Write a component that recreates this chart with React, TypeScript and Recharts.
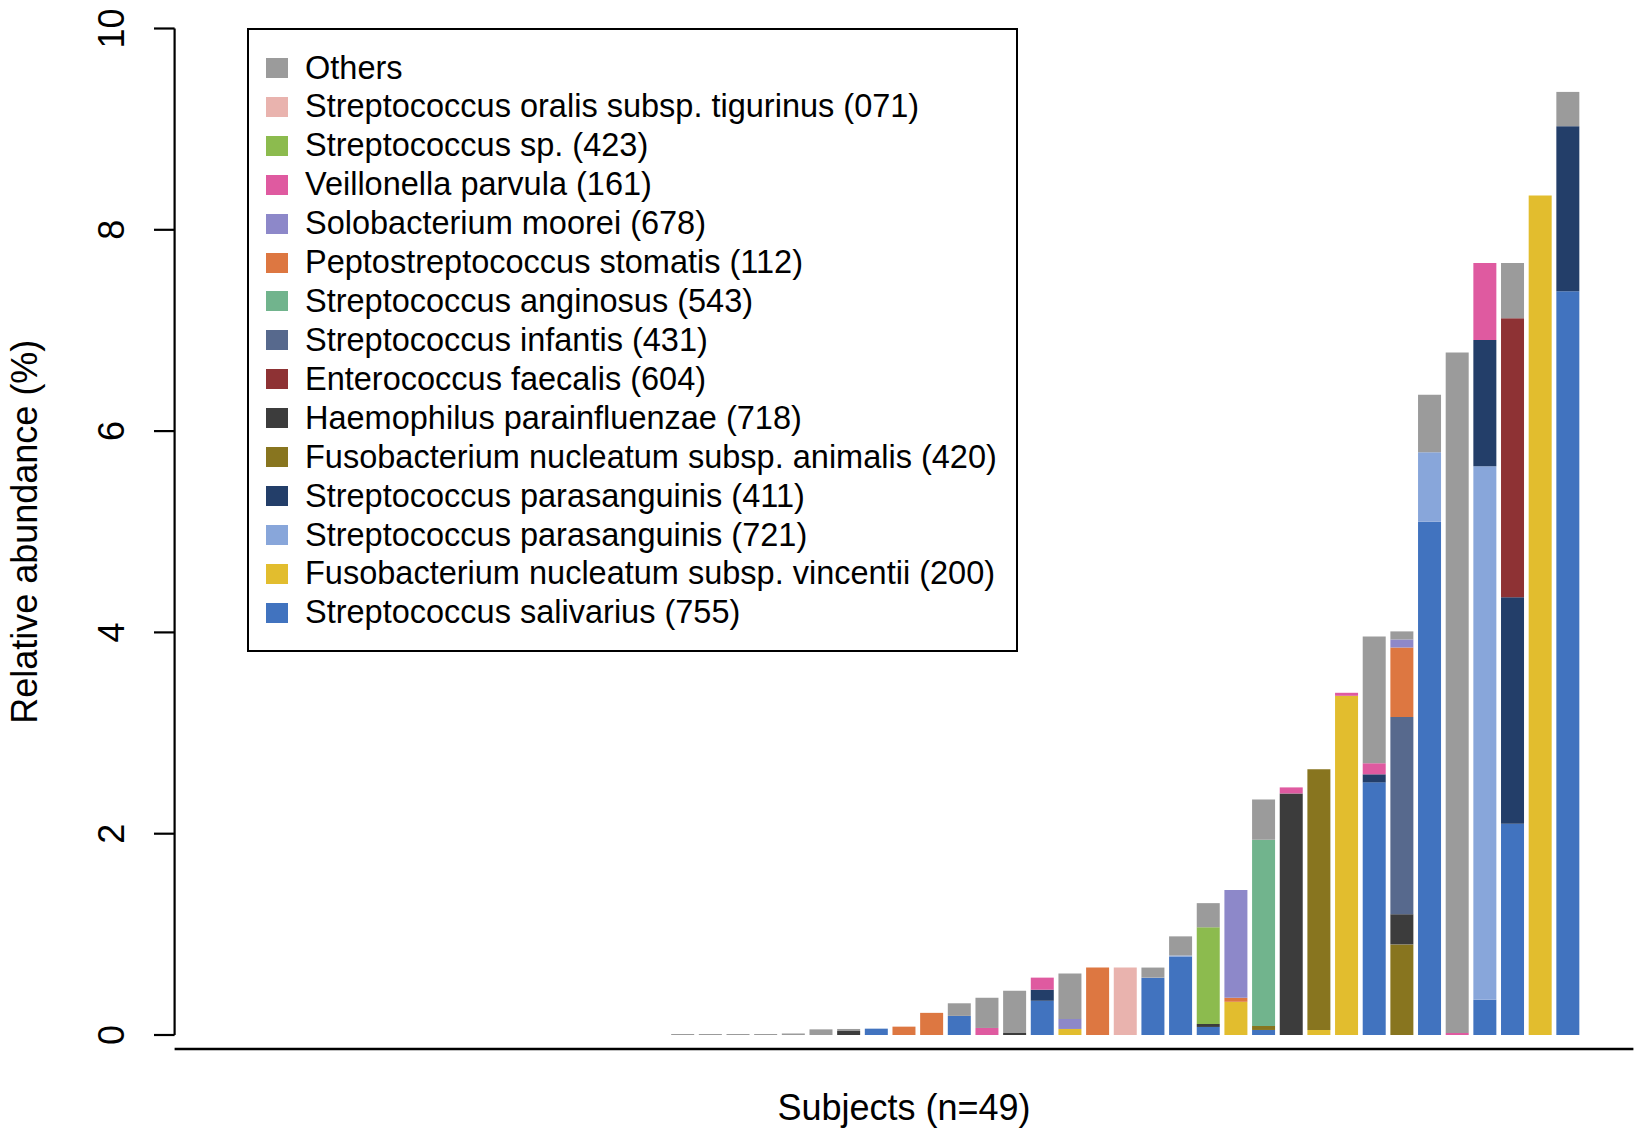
import { BarChart, Bar, XAxis, YAxis, Legend } from 'recharts';

// 49 subjects, sorted by total abundance of the top taxa
const SUBJECTS = [
  'S01', 'S02', 'S03', 'S04', 'S05', 'S06', 'S07', 'S08', 'S09', 'S10',
  'S11', 'S12', 'S13', 'S14', 'S15', 'S16', 'S17', 'S18', 'S19', 'S20',
  'S21', 'S22', 'S23', 'S24', 'S25', 'S26', 'S27', 'S28', 'S29', 'S30',
  'S31', 'S32', 'S33', 'S34', 'S35', 'S36', 'S37', 'S38', 'S39', 'S40',
  'S41', 'S42', 'S43', 'S44', 'S45', 'S46', 'S47', 'S48', 'S49',
];

const OTHERS = [
  0, 0, 0, 0, 0, 0, 0, 0, 0, 0, 0, 0, 0, 0, 0, 0,
  0.01, 0.01, 0.01, 0.01, 0.015, 0.056, 0.02, 0,
  0, 0, 0.125, 0.3, 0.42, 0, 0.45, 0,
  0, 0.1, 0.19, 0.24, 0, 0.4, 0, 0,
  0, 1.26, 0.08, 0.57, 6.76, 0, 0.55, 0, 0.34,
];
const ORALIS = [
  0, 0, 0, 0, 0, 0, 0, 0, 0, 0, 0, 0, 0, 0, 0, 0,
  0, 0, 0, 0, 0, 0, 0, 0,
  0, 0, 0, 0, 0, 0, 0, 0,
  0.67, 0, 0, 0, 0, 0, 0, 0,
  0, 0, 0, 0, 0, 0, 0, 0, 0,
];
const SP423 = [
  0, 0, 0, 0, 0, 0, 0, 0, 0, 0, 0, 0, 0, 0, 0, 0,
  0, 0, 0, 0, 0, 0, 0, 0,
  0, 0, 0, 0, 0, 0, 0, 0,
  0, 0, 0, 0.96, 0, 0, 0, 0,
  0, 0, 0, 0, 0, 0, 0, 0, 0,
];
const VEILLONELLA = [
  0, 0, 0, 0, 0, 0, 0, 0, 0, 0, 0, 0, 0, 0, 0, 0,
  0, 0, 0, 0, 0, 0, 0, 0,
  0, 0, 0, 0.07, 0, 0.12, 0, 0,
  0, 0, 0, 0, 0, 0, 0.06, 0,
  0.03, 0.11, 0, 0, 0.02, 0.765, 0, 0, 0,
];
const SOLOBACTERIUM = [
  0, 0, 0, 0, 0, 0, 0, 0, 0, 0, 0, 0, 0, 0, 0, 0,
  0, 0, 0, 0, 0, 0, 0, 0,
  0, 0, 0, 0, 0, 0, 0.1, 0,
  0, 0, 0, 0, 1.07, 0, 0, 0,
  0, 0, 0.08, 0, 0, 0, 0, 0, 0,
];
const PEPTO = [
  0, 0, 0, 0, 0, 0, 0, 0, 0, 0, 0, 0, 0, 0, 0, 0,
  0, 0, 0, 0, 0, 0, 0, 0,
  0.083, 0.22, 0, 0, 0, 0, 0, 0.67,
  0, 0, 0, 0, 0.04, 0, 0, 0,
  0, 0, 0.69, 0, 0, 0, 0, 0, 0,
];
const ANGINOSUS = [
  0, 0, 0, 0, 0, 0, 0, 0, 0, 0, 0, 0, 0, 0, 0, 0,
  0, 0, 0, 0, 0, 0, 0, 0,
  0, 0, 0, 0, 0, 0, 0, 0,
  0, 0, 0, 0, 0, 1.85, 0, 0,
  0, 0, 0, 0, 0, 0, 0, 0, 0,
];
const INFANTIS = [
  0, 0, 0, 0, 0, 0, 0, 0, 0, 0, 0, 0, 0, 0, 0, 0,
  0, 0, 0, 0, 0, 0, 0, 0,
  0, 0, 0, 0, 0, 0, 0, 0,
  0, 0, 0, 0, 0, 0, 0, 0,
  0, 0, 1.96, 0, 0, 0, 0, 0, 0,
];
const ENTEROCOCCUS = [
  0, 0, 0, 0, 0, 0, 0, 0, 0, 0, 0, 0, 0, 0, 0, 0,
  0, 0, 0, 0, 0, 0, 0, 0,
  0, 0, 0, 0, 0, 0, 0, 0,
  0, 0, 0, 0, 0, 0, 0, 0,
  0, 0, 0, 0, 0, 0, 2.77, 0, 0,
];
const HAEMOPHILUS = [
  0, 0, 0, 0, 0, 0, 0, 0, 0, 0, 0, 0, 0, 0, 0, 0,
  0, 0, 0, 0, 0, 0, 0.04, 0,
  0, 0, 0, 0, 0.02, 0, 0, 0,
  0, 0, 0, 0.03, 0, 0, 2.4, 0,
  0, 0, 0.3, 0, 0, 0, 0, 0, 0,
];
const ANIMALIS = [
  0, 0, 0, 0, 0, 0, 0, 0, 0, 0, 0, 0, 0, 0, 0, 0,
  0, 0, 0, 0, 0, 0, 0, 0,
  0, 0, 0, 0, 0, 0, 0, 0,
  0, 0, 0, 0, 0, 0.04, 0, 2.59,
  0, 0, 0.9, 0, 0, 0, 0, 0, 0,
];
const PARA411 = [
  0, 0, 0, 0, 0, 0, 0, 0, 0, 0, 0, 0, 0, 0, 0, 0,
  0, 0, 0, 0, 0, 0, 0, 0,
  0, 0, 0, 0, 0, 0.11, 0, 0,
  0, 0, 0, 0, 0, 0, 0, 0,
  0, 0.08, 0, 0, 0, 1.255, 2.25, 0, 1.64,
];
const PARA721 = [
  0, 0, 0, 0, 0, 0, 0, 0, 0, 0, 0, 0, 0, 0, 0, 0,
  0, 0, 0, 0, 0, 0, 0, 0,
  0, 0, 0, 0, 0, 0, 0, 0,
  0, 0, 0.01, 0, 0, 0, 0, 0,
  0, 0, 0, 0.69, 0, 5.3, 0, 0, 0,
];
const VINCENTII = [
  0, 0, 0, 0, 0, 0, 0, 0, 0, 0, 0, 0, 0, 0, 0, 0,
  0, 0, 0, 0, 0, 0, 0, 0,
  0, 0, 0, 0, 0, 0, 0.06, 0,
  0, 0, 0, 0, 0.33, 0, 0, 0.05,
  3.37, 0, 0, 0, 0, 0, 0, 8.34, 0,
];
const SALIVARIUS = [
  0, 0, 0, 0, 0, 0, 0, 0, 0, 0, 0, 0, 0, 0, 0, 0,
  0, 0, 0, 0, 0, 0, 0, 0.063,
  0, 0, 0.19, 0, 0, 0.34, 0, 0,
  0, 0.57, 0.78, 0.08, 0, 0.05, 0, 0,
  0, 2.51, 0, 5.1, 0, 0.35, 2.1, 0, 7.39,
];

const Y_TICKS = [0, 2, 4, 6, 8, 10];

// bottom of the stack first
const SERIES = [
  { key: 'salivarius', name: 'Streptococcus salivarius (755)', color: '#4173BF', values: SALIVARIUS },
  { key: 'vincentii', name: 'Fusobacterium nucleatum subsp. vincentii (200)', color: '#E2BD2E', values: VINCENTII },
  { key: 'para721', name: 'Streptococcus parasanguinis (721)', color: '#88A6DA', values: PARA721 },
  { key: 'para411', name: 'Streptococcus parasanguinis (411)', color: '#233E69', values: PARA411 },
  { key: 'animalis', name: 'Fusobacterium nucleatum subsp. animalis (420)', color: '#88751F', values: ANIMALIS },
  { key: 'haemophilus', name: 'Haemophilus parainfluenzae (718)', color: '#3C3C3C', values: HAEMOPHILUS },
  { key: 'enterococcus', name: 'Enterococcus faecalis (604)', color: '#8E3234', values: ENTEROCOCCUS },
  { key: 'infantis', name: 'Streptococcus infantis (431)', color: '#57698D', values: INFANTIS },
  { key: 'anginosus', name: 'Streptococcus anginosus (543)', color: '#71B48D', values: ANGINOSUS },
  { key: 'pepto', name: 'Peptostreptococcus stomatis (112)', color: '#DD7741', values: PEPTO },
  { key: 'solobacterium', name: 'Solobacterium moorei (678)', color: '#8D88C9', values: SOLOBACTERIUM },
  { key: 'veillonella', name: 'Veillonella parvula (161)', color: '#DF5AA0', values: VEILLONELLA },
  { key: 'sp423', name: 'Streptococcus sp. (423)', color: '#8CBB4E', values: SP423 },
  { key: 'oralis', name: 'Streptococcus oralis subsp. tigurinus (071)', color: '#E9B3AE', values: ORALIS },
  { key: 'others', name: 'Others', color: '#9B9B9B', values: OTHERS },
];

const data = SUBJECTS.map((subject, i) => {
  const row: Record<string, string | number> = { subject };
  SERIES.forEach((s) => {
    row[s.key] = s.values[i];
  });
  return row;
});

const FONT = "'Liberation Sans', Arial, Helvetica, sans-serif";

function YTick({ x, y, payload }: any) {
  const tx = x - 30;
  return (
    <text x={tx} y={y} transform={`rotate(-90, ${tx}, ${y})`} textAnchor="middle" fontSize={36} fill="#000" fontFamily={FONT}>
      {payload.value}
    </text>
  );
}

// legend reads top of the stack first, like the R legend
function LegendBox() {
  const items = [...SERIES].reverse();
  return (
    <div
      style={{
        width: 771,
        height: 624,
        boxSizing: 'border-box',
        border: '2px solid #000',
        paddingTop: 18.5,
        background: '#fff',
        fontFamily: FONT,
        color: '#000',
      }}
    >
      {items.map((it) => (
        <div key={it.key} style={{ height: 38.93, display: 'flex', alignItems: 'center' }}>
          <span style={{ width: 22, height: 20, background: it.color, marginLeft: 17, marginRight: 17, flexShrink: 0 }} />
          <span style={{ fontSize: 32.5, lineHeight: '38.93px', whiteSpace: 'nowrap' }}>{it.name}</span>
        </div>
      ))}
    </div>
  );
}

export default function App() {
  return (
    <div style={{ position: 'absolute', left: 0, top: 0, background: '#fff', fontFamily: FONT }}>
      <BarChart
        width={1645}
        height={1132}
        data={data}
        margin={{ top: 28.5, right: 11.6, bottom: 67, left: 0 }}
        barCategoryGap="8.33%"
      >
        <XAxis
          dataKey="subject"
          tick={false}
          tickLine={false}
          height={30}
          padding={{ left: 51.7, right: 51.7 }}
          axisLine={{ stroke: '#000', strokeWidth: 2.4, transform: 'translate(0, 14)' }}
          label={{
            content: ({ viewBox }: any) => (
              <text x={viewBox.x + viewBox.width / 2} y={1120} textAnchor="middle" fontSize={36} fill="#000" fontFamily={FONT}>
                Subjects (n=49)
              </text>
            ),
          }}
        />
        <YAxis
          type="number"
          domain={[0, 10]}
          ticks={Y_TICKS}
          width={174.6}
          tickSize={20.6}
          tickMargin={0}
          tick={<YTick />}
          axisLine={{ stroke: '#000', strokeWidth: 2.2 }}
          tickLine={{ stroke: '#000', strokeWidth: 2.2 }}
          label={{
            content: ({ viewBox }: any) => {
              const cx = 37;
              const cy = viewBox.y + viewBox.height / 2;
              return (
                <text x={cx} y={cy} transform={`rotate(-90, ${cx}, ${cy})`} textAnchor="middle" fontSize={36} fill="#000" fontFamily={FONT}>
                  Relative abundance (%)
                </text>
              );
            },
          }}
        />
        <Legend
          layout="vertical"
          align="center"
          verticalAlign="middle"
          content={<LegendBox />}
          wrapperStyle={{ left: 247, top: 28, width: 771, height: 624 }}
        />
        {SERIES.map((s) => (
          <Bar key={s.key} dataKey={s.key} name={s.name} stackId="a" fill={s.color} isAnimationActive={false} />
        ))}
      </BarChart>
    </div>
  );
}
